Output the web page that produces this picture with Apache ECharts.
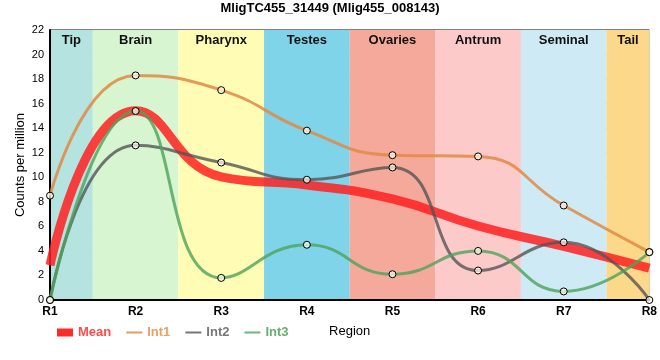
<!DOCTYPE html>
<html><head><meta charset="utf-8">
<script src="https://cdn.jsdelivr.net/npm/echarts@6/dist/echarts.min.js"></script>
<style>html,body{margin:0;padding:0;background:#fff}#c{width:660px;height:360px}</style>
</head><body><div id="c"></div>
<script>
var categories = ['R1','R2','R3','R4','R5','R6','R7','R8'];
var int1 = [8.5, 18.3, 17.1, 13.8, 11.8, 11.7, 7.7, 3.9];
var int2 = [0, 12.6, 11.2, 9.8, 10.8, 2.4, 4.7, 0];
var int3 = [0, 15.4, 1.8, 4.5, 2.1, 4.0, 0.7, 3.9];
var mean = [2.83, 15.43, 10.03, 9.37, 8.23, 6.03, 4.37, 2.6];
var regions = ['Tip','Brain','Pharynx','Testes','Ovaries','Antrum','Seminal','Tail'];
var regionColors = ['#b5e3df','#d7f5d0','#fffdb5','#7fd4ea','#f4a99b','#fdcaca','#ceebf5','#fcd98a'];
var yTicks = [0,2,4,6,8,10,12,14,16,18,20,22];

function pts(arr){ return arr.map(function(v,i){ return [i+1, v]; }); }
var areas = regions.map(function(r,i){
  var a = Math.max(1, i+0.5), b = Math.min(8, i+1.5);
  return [{name:r, xAxis:a, itemStyle:{color:regionColors[i]}}, {xAxis:b}];
});
var sym = {color:'rgba(255,255,240,0.7)', borderColor:'#000', borderWidth:1};
var chart = echarts.init(document.getElementById('c'));
chart.setOption({
  animation:false,
  title:{text:'MligTC455_31449 (Mlig455_008143)', left:'center', top:-3,
    textStyle:{fontSize:13, fontWeight:'bold', color:'#000', fontFamily:'Liberation Sans'}},
  grid:{left:50, right:9, top:30, bottom:60, show:true, borderColor:'#000', borderWidth:1, backgroundColor:'transparent'},
  legend:{left:52, top:321, itemWidth:16, itemHeight:8, itemGap:14,
    textStyle:{fontSize:13, fontWeight:'bold', fontFamily:'Liberation Sans'},
    itemStyle:{opacity:0},
    data:[
      {name:'Mean', icon:'rect', itemStyle:{opacity:1, color:'#ff2a2a'}, textStyle:{color:'#ff4a4a'}},
      {name:'Int1', textStyle:{color:'#e8a065'}},
      {name:'Int2', textStyle:{color:'#777777'}},
      {name:'Int3', textStyle:{color:'#66b070'}}
    ]},
  xAxis:{type:'value', min:1, max:8, interval:1, name:'Region', nameLocation:'middle', nameGap:25,
    nameMoveOverlap:false,
    nameTextStyle:{fontSize:13, color:'#000', fontFamily:'Liberation Sans'},
    axisLine:{lineStyle:{color:'#000', width:2}}, axisTick:{show:false},
    axisLabel:{formatter:function(v){return categories[v-1];}, color:'#000', fontSize:12, fontWeight:'bold', margin:6, fontFamily:'Liberation Sans'},
    splitLine:{show:true, lineStyle:{color:'#c8c8c8'}}},
  yAxis:{type:'value', min:0, max:22, interval:2, name:'Counts per million', nameLocation:'middle', nameGap:23,
    nameMoveOverlap:false,
    nameTextStyle:{fontSize:13, color:'#000', fontFamily:'Liberation Sans'},
    axisLine:{show:true, lineStyle:{color:'#000', width:2}}, axisTick:{show:false},
    axisLabel:{formatter:function(v){return yTicks.indexOf(v)>=0?String(v):'';}, color:'#000', fontSize:11, margin:6, fontFamily:'Liberation Sans'},
    splitLine:{show:true, lineStyle:{color:'#c8c8c8'}}},
  series:[
    {name:'Mean', type:'line', data:pts(mean), smooth:0.5, symbol:'none', z:2,
      lineStyle:{width:9, color:'#ff2020', opacity:0.85}, itemStyle:{color:'#ff2020'},
      markArea:{silent:true, z:0, label:{position:'insideTop', fontSize:13, fontWeight:'bold', color:'#111', distance:4, fontFamily:'Liberation Sans'}, data:areas}},
    {name:'Int1', type:'line', data:pts(int1), smooth:0.5, symbol:'circle', symbolSize:7, clip:false, z:3,
      lineStyle:{width:3, color:'#e08a45', opacity:0.85}, itemStyle:sym},
    {name:'Int2', type:'line', data:pts(int2), smooth:0.5, symbol:'circle', symbolSize:7, clip:false, z:3,
      lineStyle:{width:3, color:'#555555', opacity:0.8}, itemStyle:sym},
    {name:'Int3', type:'line', data:pts(int3), smooth:0.5, symbol:'circle', symbolSize:7, clip:false, z:3,
      lineStyle:{width:3, color:'#4ea35a', opacity:0.8}, itemStyle:sym}
  ]
});
</script></body></html>
